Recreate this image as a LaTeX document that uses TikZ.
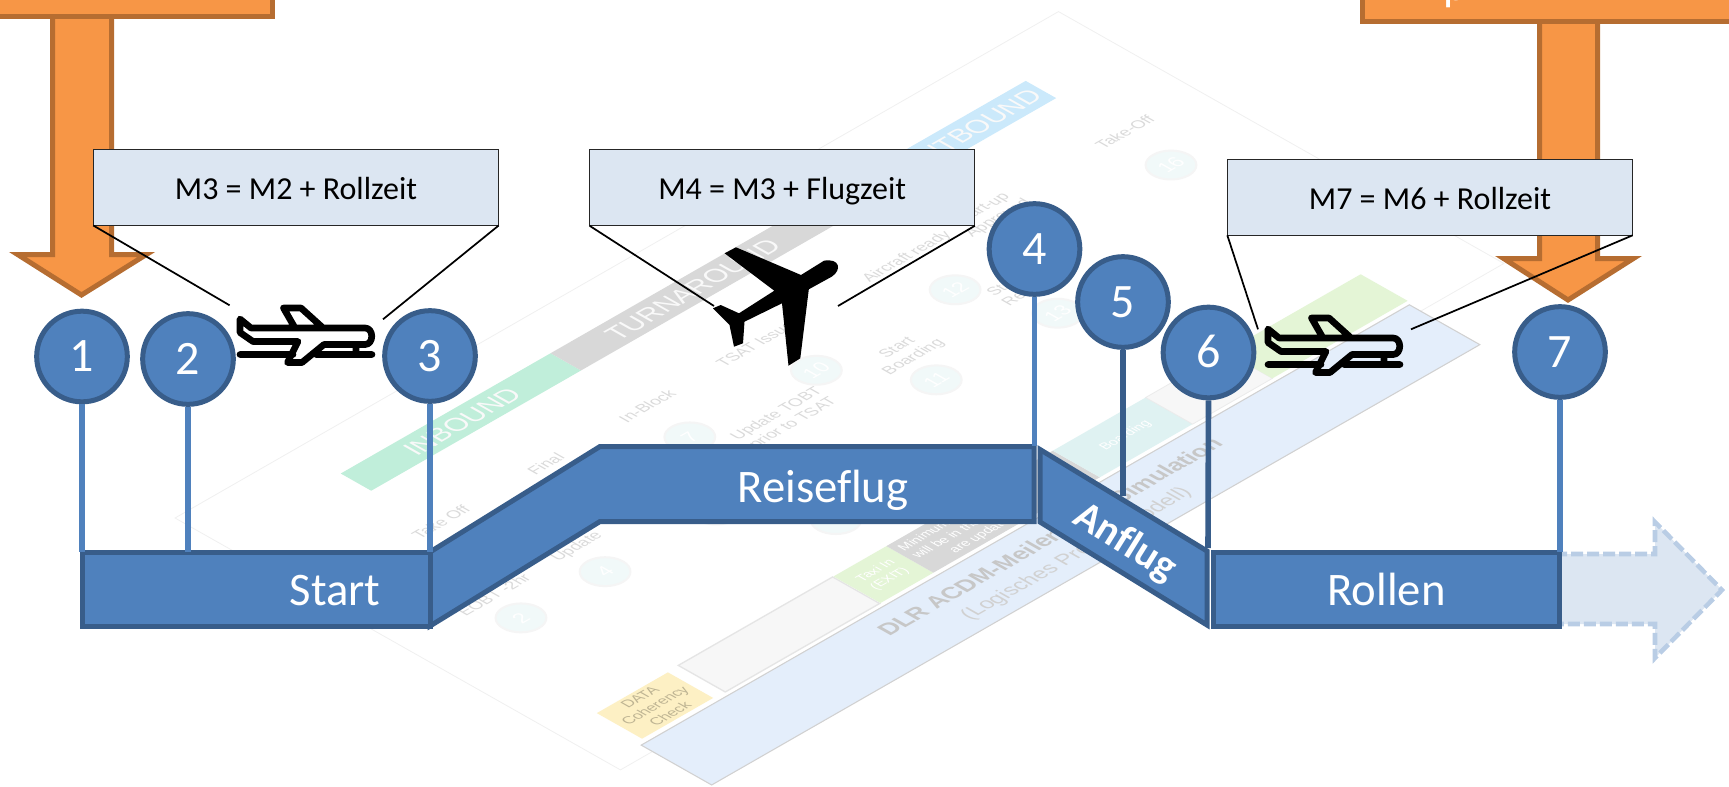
\documentclass[tikz,border=0pt]{standalone}
\usepackage{fontspec}
\setmainfont[Ligatures=NoCommon]{Carlito}
\newfontfamily\platefont{Liberation Sans}
\usepackage{xcolor}
\usetikzlibrary{positioning}
\definecolor{barfill}{HTML}{4F81BD}
\definecolor{barline}{HTML}{385D8A}
\definecolor{orangefill}{HTML}{F79646}
\definecolor{orangeline}{HTML}{B66D31}
\definecolor{notefill}{HTML}{DCE6F2}
\definecolor{ghostline}{HTML}{B9CDE5}
\definecolor{plategreen}{HTML}{C0EEDA}
\definecolor{plategrey}{HTML}{D8D8D8}
\definecolor{plateblue}{HTML}{CBE9FB}
\definecolor{platestrip}{HTML}{E4EEFB}
\definecolor{plateyellow}{HTML}{FDF0C4}
\definecolor{platelime}{HTML}{E4F5D6}
\definecolor{plateteal}{HTML}{DFF2F2}
\definecolor{platetext}{HTML}{DADADA}

\begin{document}
\begin{tikzpicture}[
    x = 0.75pt,
    y = -0.75pt,
    bigarrow/.style={draw=orangeline, fill=orangefill, line width=3.75pt},
    ghostarrow/.style={draw=ghostline, fill=notefill, line width=3.4pt, dash pattern=on 9pt off 3pt},
    notebox/.style={draw=black!85, fill=notefill, line width=0.75pt, inner sep=0pt, outer sep=0pt,
        minimum height=57pt, text height=18.3pt, text depth=0pt, font=\fontsize{24}{28}\selectfont},
    noteline/.style={black, line width=1.3pt},
    numdot/.style={circle, draw=barline, fill=barfill, line width=3.75pt, minimum size=68pt, inner sep=0pt,
        text=white, text height=23pt, text depth=0pt, font=\fontsize{36}{42}\selectfont},
    stemline/.style={barfill, line width=4.2pt},
    darkstem/.style={barline, line width=4.2pt},
    barbox/.style={draw=barline, fill=barfill, line width=3.75pt, inner sep=0pt, outer sep=0pt,
        minimum height=55.5pt, text=white, text height=24.5pt, text depth=0pt, font=\fontsize{35}{42}\selectfont},
    bartext/.style={inner sep=0pt, text=white, text height=24.5pt, text depth=0pt, font=\fontsize{35}{42}\selectfont},
    platelabel/.style={transform shape, inner sep=0pt, align=center, text=platetext,
        font=\platefont\fontsize{12}{14}\selectfont},
    platehead/.style={transform shape, inner sep=0pt, text=white!85!plategrey,
        font=\platefont\fontsize{20}{24}\selectfont},
    milestone/.style={transform shape, circle, draw=black!4, fill=plateteal!45, line width=1.5pt,
        minimum size=31pt, inner sep=0pt, text=white, font=\platefont\fontsize{15}{18}\selectfont},
    pics/rollplane/.style={code={
        \draw[black, line width=5pt, line cap=round, line join=round]
            (10,24) -- (10,37.5) -- (23,46.5) -- (68,46.5) -- (57.5,67.5) -- (72,67.5) -- (94,49.5) -- (135,49.5)
            .. controls (144,49.5) and (144,33) .. (135,33) -- (21,33) -- cycle
            (53.5,13) -- (71,13) -- (92,32)
            (53.5,13) -- (65,33)
            (10,59.5) -- (63,59.5)
            (86,59.5) -- (142,59.5)
            (126,50) -- (126,59);
    }}
]
    \useasboundingbox (0,0) rectangle (1729,786);

    % faded sheet in the background
    \begin{scope}[cm={.867,.497,-.87,.492,(175,518)}]
        \draw[black!6, fill=white, line width=0.6pt] (0,0) rectangle (1019,512);
        \fill[plategreen] (140,51) rectangle (382,86);
        \fill[plategrey] (382,51) rectangle (730,86);
        \fill[plateblue] (730,51) rectangle (930,86);
        \node[platehead] (inbound) at (262,69) {INBOUND};
        \node[platehead] (turnaround) at (528,69) {TURNAROUND};
        \node[platehead] (outbound) at (848,69) {OUTBOUND};

        \node[platelabel] (takeoffa) at (148,158) {Take Off};
        \node[platelabel] (final) at (267,160) {Final};
        \node[platelabel] (inblock) at (384,160) {In-Block};
        \node[platelabel] (tsat) at (513,160) {TSAT Issued};
        \node[platelabel] (ready) at (684,160) {Aircraft ready};
        \node[platelabel] (approved) at (775,165) {Start-up\\Approved};
        \node[platelabel] (takeoffb) at (935,160) {Take-Off};
        \node[platelabel] (eobt) at (105,262) {EOBT -2hr};
        \node[platelabel] (update) at (201,262) {Update};
        \node[platelabel] (tobt) at (450,253) {Update TOBT\\prior to TSAT};
        \node[platelabel] (boarding) at (586,256) {Start\\Boarding};
        \node[platelabel] (request) at (722,256) {Start-up\\Request};

        \node[milestone] (m7) at (377,216) {7};
        \node[milestone] (m10) at (517,222) {10};
        \node[milestone] (m12) at (678,221) {12};
        \node[milestone] (m16) at (928,220) {16};
        \node[milestone] (m2) at (97,301) {2};
        \node[milestone] (m4) at (192,303) {4};
        \node[milestone] (m8) at (318,305) {};
        \node[milestone] (m11) at (576,301) {11};
        \node[milestone] (m13) at (713,304) {13};
        \node[milestone] (m9) at (377,384) {};

        \fill[plateyellow] (44,441) rectangle (126,493);
        \draw[black!10, fill=black!3, line width=1pt] (139,440) rectangle (317,494);
        \fill[platelime] (318,440) rectangle (379,494);
        \fill[plategrey] (379,440) rectangle (571,494);
        \fill[plateteal] (571,440) rectangle (678,494);
        \draw[black!8, fill=black!3, line width=0.6pt] (678,440) rectangle (770,494);
        \fill[platelime] (770,440) rectangle (926,494);
        \draw[black!18, fill=platestrip, line width=0.8pt] (37,499) rectangle (923,580);

        \node[platelabel, font=\platefont\fontsize{11}{13}\selectfont, text=black!25!plateyellow] (coherency) at (85,467) {DATA\\Coherency\\Check};
        \node[platelabel, font=\platefont\fontsize{10}{12}\selectfont, text=white] (taxiin) at (348,467) {Taxi In\\(EXIT)};
        \node[platelabel, font=\platefont\fontsize{10}{12}\selectfont, text=white, align=left, anchor=west] (minimum) at (384,468) {Minimum\\will be in the\\\hspace{20pt}are updated};
        \node[platelabel, font=\platefont\fontsize{10}{12}\selectfont, text=white] (boardtag) at (628,467) {Boarding};
        \node[platelabel, font=\platefont\bfseries\fontsize{17.5}{21}\selectfont, text=black!22] (dlr) at (482,525) {DLR ACDM-Meilenstein-Simulation};
        \node[platelabel, font=\platefont\fontsize{16}{19}\selectfont, text=black!18] (logic) at (480,558) {(Logisches Prozessmodell)};
    \end{scope}

    % arrows from the boxes above
    \draw[bigarrow] (52.5,10) -- (52.5,254.5) -- (17.6,254.5) -- (81.5,295) -- (146.4,254.5) -- (111.5,254.5) -- (111.5,10) -- cycle;
    \draw[bigarrow] (1539.5,15) -- (1539.5,258.5) -- (1503.6,258.5) -- (1568,300) -- (1633.4,258.5) -- (1597.5,258.5) -- (1597.5,15) -- cycle;
    \draw[bigarrow] (-20,-20) rectangle (272,16.5);
    \draw[bigarrow] (1362,-20) rectangle (1760,21.5);
    \node[anchor=base west, inner sep=0pt, text=white, font=\fontsize{34}{40}\selectfont] (topletter) at (1443,0) {p};

    \draw[ghostarrow] (1555,554) -- (1655,554) -- (1655,522) -- (1722,590) -- (1655,658) -- (1655,624) -- (1555,624);

    % phases
    \draw[draw=barline, fill=barfill, line width=3.75pt] (430,552) -- (600,446.5) -- (1034,446.5) -- (1034,521.5) -- (600,521.5) -- (430,626) -- cycle;
    \draw[draw=barline, fill=barfill, line width=3.75pt] (1040,449.5) -- (1207,551) -- (1207,625) -- (1040,522) -- cycle;
    \node[barbox, minimum width=261pt] (startbar) at (256,589) {};
    \node[barbox, minimum width=260pt] (rollen) at (1386.5,589) {Rollen};
    \node[bartext] (start) at (335,589) {Start};
    \node[bartext] (reise) at (823,486) {Reiseflug};
    \node[rotate=-32, inner sep=0pt, text=white, font=\bfseries\fontsize{31}{37}\selectfont] (anflug) at (1125,543) {Anflug};
    \coordinate (reisetop) at (1034.5,446);
    \coordinate (anflugtop) at (1123,496);
    \coordinate (anflugend) at (1208,548);

    % notes and planes
    \node[notebox, minimum width=304pt] (note1) at (296,187.5) {M3 = M2 + Rollzeit};
    \node[notebox, minimum width=289pt] (note2) at (782.25,187.75) {M4 = M3 + Flugzeit};
    \node[notebox, minimum width=304pt] (note3) at (1430,197.3) {M7 = M6 + Rollzeit};
    \coordinate (note1a) at (229.6,305.3);
    \coordinate (note1b) at (383,319.3);
    \coordinate (note2a) at (714,306);
    \coordinate (note2b) at (838,306);
    \coordinate (note3a) at (1258,329.3);
    \coordinate (note3b) at (1411,329.3);
    \path[noteline]
        (note1.south west) edge (note1a)
        (note1.south east) edge (note1b)
        (note2.south west) edge (note2a)
        (note2.south east) edge (note2b)
        (note3.south west) edge (note3a)
        (note3.south east) edge (note3b);

    \pic (plane1) at (230,295) {rollplane};
    \pic (plane3) at (1258,305) {rollplane};
    \fill[black] (824,260.7) -- (801,275) -- (736,247.3) -- (724.6,253.3) -- (774.3,290.7) -- (739,313.3)
        -- (720.7,305) -- (713,308.3) -- (729.5,325) -- (734,346.7) -- (743,343.3) -- (744.5,321.7) -- (782,303.3)
        -- (788.5,365.7) -- (800.3,358.3) -- (808.8,289.3) -- (831.7,276.7)
        .. controls (842,270) and (840,258) .. (824,260.7) -- cycle;

    % milestones
    \node[numdot] (c1) at (82,356.5) {1};
    \node[numdot] (c2) at (188,359) {2};
    \node[numdot] (c3) at (430,356) {3};
    \node[numdot] (c4) at (1034.5,249) {4};
    \node[numdot] (c5) at (1123,302) {5};
    \node[numdot] (c6) at (1208.5,352.5) {6};
    \node[numdot] (c7) at (1560,352) {7};

    \path[stemline]
        (c1.south) edge (c1.south |- startbar.north)
        (c2.south) edge (c2.south |- startbar.north)
        (c3.south) edge (c3.south |- startbar.north)
        (c4.south) edge (reisetop)
        (c7.south) edge (c7.south |- rollen.north);
    \path[darkstem]
        (c5.south) edge (anflugtop)
        (c6.south) edge (anflugend);
\end{tikzpicture}
\end{document}
